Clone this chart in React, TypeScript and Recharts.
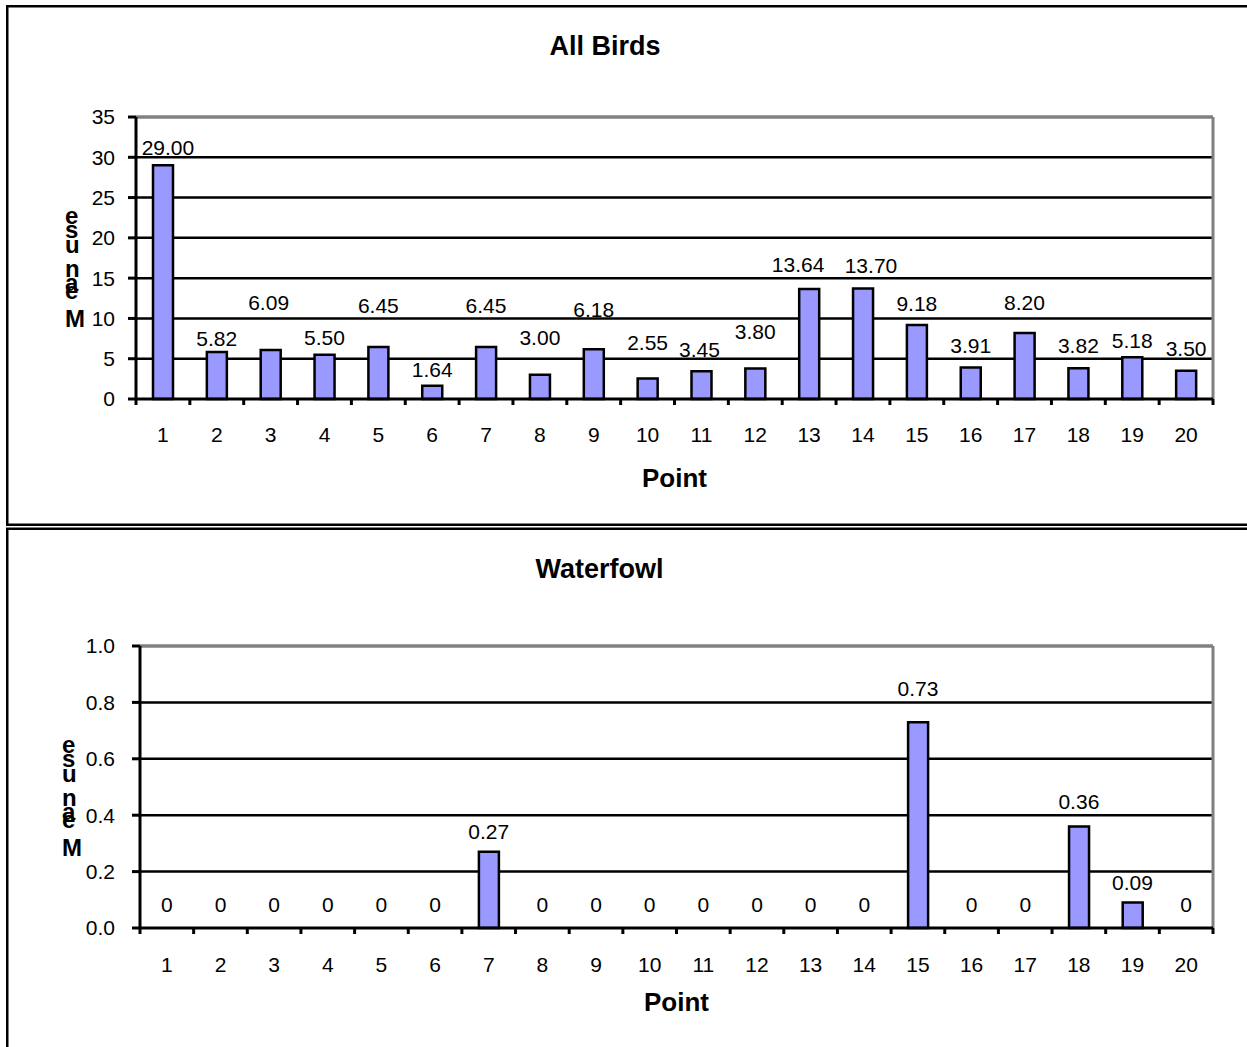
import React from 'react';
import {
  ComposedChart,
  Bar,
  Line,
  XAxis,
  YAxis,
  CartesianGrid,
  LabelList,
  Label,
  ReferenceLine,
} from 'recharts';

// ---------- data ----------
const points = ['1', '2', '3', '4', '5', '6', '7', '8', '9', '10', '11', '12', '13', '14', '15', '16', '17', '18', '19', '20'];
const allBirdsMeans = [29.0, 5.82, 6.09, 5.5, 6.45, 1.64, 6.45, 3.0, 6.18, 2.55, 3.45, 3.8, 13.64, 13.7, 9.18, 3.91, 8.2, 3.82, 5.18, 3.5];
const waterfowlMeans = [0, 0, 0, 0, 0, 0, 0.27, 0, 0, 0, 0, 0, 0, 0, 0.73, 0, 0, 0.36, 0.09, 0];
const allBirdsTicks = [0, 5, 10, 15, 20, 25, 30, 35];
const waterfowlTicks = [0, 0.2, 0.4, 0.6, 0.8, 1.0];
const allBirdsTitle = 'All Birds';
const waterfowlTitle = 'Waterfowl';
const xAxisTitle = 'Point';
// stacked y-axis title glyphs, bottom to top
const yTitleGlyphs = ['M', 'e', 'a', 'n', 'u', 's', 'e'];

// ---------- layout / style ----------
const FONT = '"Liberation Sans", Arial, Helvetica, sans-serif';
const PAGE_W = 1247;
const PAGE_H = 1047;
const BAR_FILL = '#9999FF';
const GRAY = '#808080';
// baseline offsets of the stacked y-title glyphs from the plot's vertical centre
const yTitleGlyphDy = [69, 41, 33, 19, -5, -20, -34];
// how far each data label's centre sits above its bar top (px)
const allBirdsLabelLift = [18, 14, 47, 17, 42, 16, 42, 37, 40, 36, 22, 37, 25, 23, 22, 22, 30, 23, 17, 22];
const waterfowlLabelLift = [24, 24, 24, 24, 24, 24, 20, 24, 24, 24, 24, 24, 24, 24, 34, 24, 24, 25, 20, 24];
// horizontal nudge of a data label from its bar centre (px)
const allBirdsLabelShift = [5, 0, -2, 0, 0, 0, 0, 0, 0, 0, -2, 0, -11, 8, 0, 0, 0, 0, 0, 0];
const waterfowlLabelShift = [0, 0, 0, 0, 0, 0, 0, 0, 0, 0, 0, 0, 0, 0, 0, 0, 0, 0, 0, 0];

const allBirdsData = points.map((p, i) => ({ point: p, v: allBirdsMeans[i] }));
const waterfowlData = points.map((p, i) => ({ point: p, v: waterfowlMeans[i] }));

const makeXTick = (plotW: number, textDy: number) => (props: any) => {
  const { x, y, payload, index } = props;
  const bw = plotW / points.length;
  const left = x - bw / 2;
  const isLast = index === points.length - 1 || payload.value === points[points.length - 1];
  return (
    <g>
      <line x1={left} y1={y} x2={left} y2={y + 6} stroke="#000" strokeWidth={3} />
      {isLast && <line x1={x + bw / 2} y1={y} x2={x + bw / 2} y2={y + 6} stroke="#000" strokeWidth={3} />}
      <text x={x} y={y + textDy} textAnchor="middle" fontSize={21} fontFamily={FONT} fill="#000">
        {payload.value}
      </text>
    </g>
  );
};

const makeValueLabel = (lifts: number[], shifts: number[], fmt: (v: number) => string) => (props: any) => {
  const vb = props.viewBox || {};
  let x = props.x !== undefined ? Number(props.x) : Number(vb.x);
  const y = props.y !== undefined ? Number(props.y) : Number(vb.y);
  const w = props.width !== undefined ? Number(props.width) : Number(vb.width || 0);
  if (w) x = x + w / 2;
  const idx = props.index ?? 0;
  const cy = y - (lifts[idx] ?? 20);
  return (
    <text x={x + (shifts[idx] ?? 0)} y={cy + 7.5} textAnchor="middle" fontSize={21} fontFamily={FONT} fill="#000">
      {fmt(Number(props.value))}
    </text>
  );
};

const makeYTitle = (leftX: number) => (props: any) => {
  const vb = props.viewBox || {};
  const cy = vb.y + vb.height / 2;
  return (
    <g>
      {yTitleGlyphs.map((g, i) => (
        <text key={i} x={leftX} y={cy + yTitleGlyphDy[i]} fontSize={24} fontWeight="bold" fontFamily={FONT} fill="#000">
          {g}
        </text>
      ))}
    </g>
  );
};

const makeXTitle = (dy: number) => (props: any) => {
  const vb = props.viewBox || {};
  return (
    <text x={vb.x + vb.width / 2} y={vb.y + dy} textAnchor="middle" fontSize={26} fontWeight="bold" fontFamily={FONT} fill="#000">
      {xAxisTitle}
    </text>
  );
};

type PanelProps = {
  data: { point: string; v: number }[];
  width: number;
  height: number;
  margin: { top: number; right: number; bottom: number; left: number };
  yAxisWidth: number;
  xAxisHeight: number;
  ticks: number[];
  tickFmt: (v: number) => string;
  tickMargin: number;
  labelFmt: (v: number) => string;
  lifts: number[];
  shifts: number[];
  yTitleX: number;
  xTickTextDy: number;
  xTitleDy: number;
};

function Panel(p: PanelProps) {
  const plotW = p.width - p.margin.left - p.margin.right - p.yAxisWidth;
  const maxV = p.ticks[p.ticks.length - 1];
  return (
    <ComposedChart width={p.width} height={p.height} data={p.data} margin={p.margin}>
      <CartesianGrid
        vertical={false}
        stroke="#000"
        strokeWidth={2.5}
        horizontalValues={p.ticks.slice(1, -1)}
      />
      <XAxis
        dataKey="point"
        type="category"
        interval={0}
        height={p.xAxisHeight}
        tickSize={0}
        tickMargin={0}
        tickLine={false}
        axisLine={{ stroke: '#000', strokeWidth: 3 }}
        tick={makeXTick(plotW, p.xTickTextDy)}
      >
        <Label content={makeXTitle(p.xTitleDy)} />
      </XAxis>
      <YAxis
        type="number"
        domain={[0, maxV]}
        ticks={p.ticks}
        interval={0}
        width={p.yAxisWidth}
        tickSize={8}
        tickMargin={p.tickMargin}
        tickFormatter={p.tickFmt}
        axisLine={{ stroke: '#000', strokeWidth: 3 }}
        tickLine={{ stroke: '#000', strokeWidth: 3 }}
        tick={{ fontSize: 21, fill: '#000', fontFamily: FONT }}
      >
        <Label content={makeYTitle(p.yTitleX)} />
      </YAxis>
      <ReferenceLine y={maxV} stroke={GRAY} strokeWidth={3.5} />
      <ReferenceLine x={points[points.length - 1]} position="end" stroke={GRAY} strokeWidth={3} />
      <Bar dataKey="v" fill={BAR_FILL} stroke="#000" strokeWidth={2.5} barSize={20} isAnimationActive={false} />
      <Line
        dataKey="v"
        stroke="transparent"
        strokeOpacity={0}
        dot={false}
        activeDot={false}
        legendType="none"
        isAnimationActive={false}
      >
        <LabelList dataKey="v" content={makeValueLabel(p.lifts, p.shifts, p.labelFmt)} />
      </Line>
    </ComposedChart>
  );
}

export default function App() {
  return (
    <div
      style={{
        position: 'absolute',
        left: 0,
        top: 0,
        width: PAGE_W,
        height: PAGE_H,
        overflow: 'hidden',
        background: '#fff',
      }}
    >
      <svg width={PAGE_W} height={PAGE_H} style={{ position: 'absolute', left: 0, top: 0 }}>
        <rect x={7.25} y={6.25} width={1400} height={518.5} fill="none" stroke="#000" strokeWidth={2.5} />
        <rect x={7.25} y={528.75} width={1400} height={700} fill="none" stroke="#000" strokeWidth={2.5} />
        <text x={605} y={55} textAnchor="middle" fontSize={27} fontWeight="bold" fontFamily={FONT} fill="#000">
          {allBirdsTitle}
        </text>
        <text x={599.5} y={578} textAnchor="middle" fontSize={27} fontWeight="bold" fontFamily={FONT} fill="#000">
          {waterfowlTitle}
        </text>
      </svg>
      <div style={{ position: 'absolute', left: 0, top: 0 }}>
        <Panel
          data={allBirdsData}
          width={PAGE_W}
          height={526}
          margin={{ top: 117, right: 34, bottom: 0, left: 0 }}
          yAxisWidth={136}
          xAxisHeight={127}
          ticks={allBirdsTicks}
          tickFmt={(v) => String(v)}
          tickMargin={13}
          labelFmt={(v) => v.toFixed(2)}
          lifts={allBirdsLabelLift}
          shifts={allBirdsLabelShift}
          yTitleX={65}
          xTickTextDy={43}
          xTitleDy={88}
        />
      </div>
      <div style={{ position: 'absolute', left: 0, top: 526 }}>
        <Panel
          data={waterfowlData}
          width={PAGE_W}
          height={521}
          margin={{ top: 120, right: 34, bottom: 0, left: 0 }}
          yAxisWidth={140}
          xAxisHeight={119}
          ticks={waterfowlTicks}
          tickFmt={(v) => v.toFixed(1)}
          tickMargin={17}
          labelFmt={(v) => (v === 0 ? '0' : v.toFixed(2))}
          lifts={waterfowlLabelLift}
          shifts={waterfowlLabelShift}
          yTitleX={62}
          xTickTextDy={44}
          xTitleDy={83}
        />
      </div>
    </div>
  );
}
